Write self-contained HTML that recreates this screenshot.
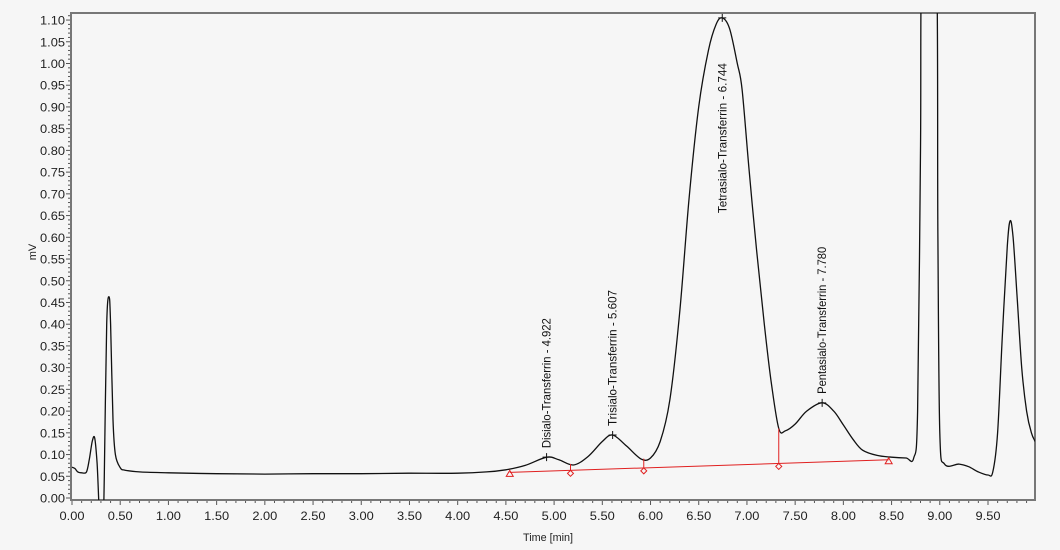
<!DOCTYPE html>
<html><head><meta charset="utf-8"><style>
html,body{margin:0;padding:0;background:#f6f6f6;}
svg{display:block;font-family:"Liberation Sans",sans-serif;}
</style></head><body>
<svg id="c" width="1060" height="550"></svg>
<script>
const trace = [[0.00,0.071],[0.03,0.068],[0.06,0.060],[0.10,0.058],[0.15,0.060],[0.18,0.090],[0.21,0.130],[0.235,0.138],[0.26,0.08],[0.28,-0.02],[0.30,-0.1],[0.32,-0.1],[0.335,0.05],[0.36,0.40],[0.385,0.463],[0.40,0.40],[0.425,0.18],[0.45,0.10],[0.50,0.070],[0.55,0.064],[0.70,0.060],[1.00,0.058],[1.50,0.056],[2.00,0.055],[2.50,0.056],[3.00,0.056],[3.50,0.057],[4.00,0.057],[4.30,0.060],[4.50,0.065],[4.70,0.075],[4.922,0.094],[5.05,0.088],[5.20,0.076],[5.35,0.095],[5.50,0.130],[5.607,0.145],[5.75,0.120],[5.90,0.090],[6.00,0.092],[6.10,0.130],[6.20,0.225],[6.30,0.420],[6.40,0.690],[6.50,0.900],[6.60,1.030],[6.68,1.090],[6.744,1.105],[6.82,1.080],[6.90,1.000],[6.95,0.940],[7.02,0.760],[7.10,0.570],[7.18,0.400],[7.25,0.270],[7.33,0.160],[7.40,0.155],[7.50,0.170],[7.62,0.200],[7.78,0.219],[7.90,0.200],[8.00,0.168],[8.10,0.135],[8.20,0.110],[8.35,0.098],[8.50,0.094],[8.65,0.092],[8.73,0.092],[8.77,0.200],[8.80,0.800],[8.82,1.30],[8.96,1.30],[8.98,0.600],[9.00,0.150],[9.05,0.078],[9.20,0.078],[9.30,0.072],[9.40,0.060],[9.50,0.053],[9.55,0.060],[9.60,0.150],[9.65,0.380],[9.70,0.580],[9.73,0.638],[9.76,0.600],[9.80,0.470],[9.85,0.300],[9.90,0.200],[9.95,0.150],[9.99,0.130]];
const baseStart = [4.54,0.059];
const baseEnd = [8.47,0.088];
const splits = [5.17,5.93,7.33];
const peakNames = ["Disialo-Transferrin - 4.922","Trisialo-Transferrin - 5.607","Tetrasialo-Transferrin - 6.744","Pentasialo-Transferrin - 7.780"];
const peakTimes = [4.922,5.607,6.744,7.780];
const peakVals = [0.094,0.145,1.105,0.219];
const labelBaseVals = [0.094,0.145,0.635,0.219];
const yTicks = ["0.00","0.05","0.10","0.15","0.20","0.25","0.30","0.35","0.40","0.45","0.50","0.55","0.60","0.65","0.70","0.75","0.80","0.85","0.90","0.95","1.00","1.05","1.10"];
const xTicks = ["0.00","0.50","1.00","1.50","2.00","2.50","3.00","3.50","4.00","4.50","5.00","5.50","6.00","6.50","7.00","7.50","8.00","8.50","9.00","9.50"];

const NS="http://www.w3.org/2000/svg";
const svg=document.getElementById('c');
const L=71,R=1035,T=13,B=500;
const X=t=>72+t*96.42;
const Y=v=>498-v*434.5;
function mk(tag,a,p){const e=document.createElementNS(NS,tag);for(const k in a)e.setAttribute(k,a[k]);(p||svg).appendChild(e);return e;}
const defs=mk('defs',{});const cp=mk('clipPath',{id:'pc'},defs);mk('rect',{x:L,y:T,width:R-L,height:B-T},cp);
let e;
e=mk('rect',{x:L,y:T,width:R-L,height:B-T,fill:'#f6f6f6'});

const ya=mk('g',{});
for(let i=0;i<=111;i++){const v=i/100,y=Y(v);const maj=i%5==0;mk('line',{x1:L-(maj?5:3),x2:L,y1:y,y2:y,stroke:'#555','stroke-width':1},ya);}
yTicks.forEach(s=>{const t=mk('text',{x:L-6,y:Y(parseFloat(s))+4.5,'text-anchor':'end','font-size':12,fill:'#222',textLength:25,lengthAdjust:'spacingAndGlyphs'},ya);t.textContent=s;});
const xa=mk('g',{});
for(let i=0;i<=99;i++){const x=X(i/10);const maj=i%5==0;mk('line',{x1:x,x2:x,y1:B,y2:B+(maj?5:3),stroke:'#555','stroke-width':1},xa);}
xTicks.forEach(s=>{const t=mk('text',{x:X(parseFloat(s)),y:B+20,'text-anchor':'middle','font-size':12,fill:'#222',textLength:25,lengthAdjust:'spacingAndGlyphs'},xa);t.textContent=s;});
e=mk('path',{d:`M${L},${T}H${R}V${B}H${L}Z`,fill:'none',stroke:'#777','stroke-width':2});

e=mk('text',{x:548,y:541,'text-anchor':'middle','font-size':11,fill:'#222',textLength:50,lengthAdjust:'spacingAndGlyphs'});e.textContent='Time [min]';

e=mk('text',{x:0,y:0,'text-anchor':'middle','font-size':11,fill:'#222',transform:'translate(36,252) rotate(-90)'});e.textContent='mV';

// smooth trace (Catmull-Rom)
const P=trace.map(p=>[X(p[0]),Y(p[1])]);
let d='M'+P[0][0].toFixed(1)+','+P[0][1].toFixed(1);
for(let i=0;i<P.length-1;i++){const p0=P[Math.max(0,i-1)],p1=P[i],p2=P[i+1],p3=P[Math.min(P.length-1,i+2)];
const c1=[p1[0]+(p2[0]-p0[0])/6,p1[1]+(p2[1]-p0[1])/6],c2=[p2[0]-(p3[0]-p1[0])/6,p2[1]-(p3[1]-p1[1])/6];
d+=`C${c1[0].toFixed(1)},${c1[1].toFixed(1)} ${c2[0].toFixed(1)},${c2[1].toFixed(1)} ${p2[0].toFixed(1)},${p2[1].toFixed(1)}`;}
e=mk('path',{d:d,fill:'none',stroke:'#111','stroke-width':1.3,'stroke-linejoin':'round','clip-path':'url(#pc)'});

const bl=t=>baseStart[1]+(t-baseStart[0])*(baseEnd[1]-baseStart[1])/(baseEnd[0]-baseStart[0]);
e=mk('line',{x1:X(baseStart[0]),y1:Y(baseStart[1]),x2:X(baseEnd[0]),y2:Y(baseEnd[1]),stroke:'#e02020','stroke-width':1});

[baseStart,baseEnd].forEach(p=>{const x=X(p[0]),y=Y(p[1])+3;const m=mk('path',{d:`M${x},${y-5}L${x+3.5},${y+1}L${x-3.5},${y+1}Z`,fill:'none',stroke:'#e02020'});});
function traceAt(t){for(let i=1;i<trace.length;i++){if(trace[i][0]>=t){const a=trace[i-1],b=trace[i];return a[1]+(t-a[0])*(b[1]-a[1])/(b[0]-a[0]);}}return 0;}
splits.forEach(t=>{const x=X(t),yb=Y(bl(t)),yc=Y(traceAt(t));
const dl=mk('line',{x1:x,x2:x,y1:yb,y2:yc,stroke:'#e02020'});
const m=mk('path',{d:`M${x},${yb}l3,3l-3,3l-3,-3Z`,fill:'#f6f6f6',stroke:'#e02020'});});
peakTimes.forEach((t,i)=>{const x=X(t),y=Y(peakVals[i]);
const m=mk('path',{d:`M${x-4},${y}H${x+4}M${x},${y-4}V${y+4}`,stroke:'#111'});
const ly=Y(labelBaseVals[i])-9;
const tx=mk('text',{x:0,y:0,'font-size':12,fill:'#111',transform:`translate(${x+4},${ly}) rotate(-90)`,textLength:[130,136,150,147][i],lengthAdjust:'spacingAndGlyphs'});tx.textContent=peakNames[i];
});
</script>
</body></html>
